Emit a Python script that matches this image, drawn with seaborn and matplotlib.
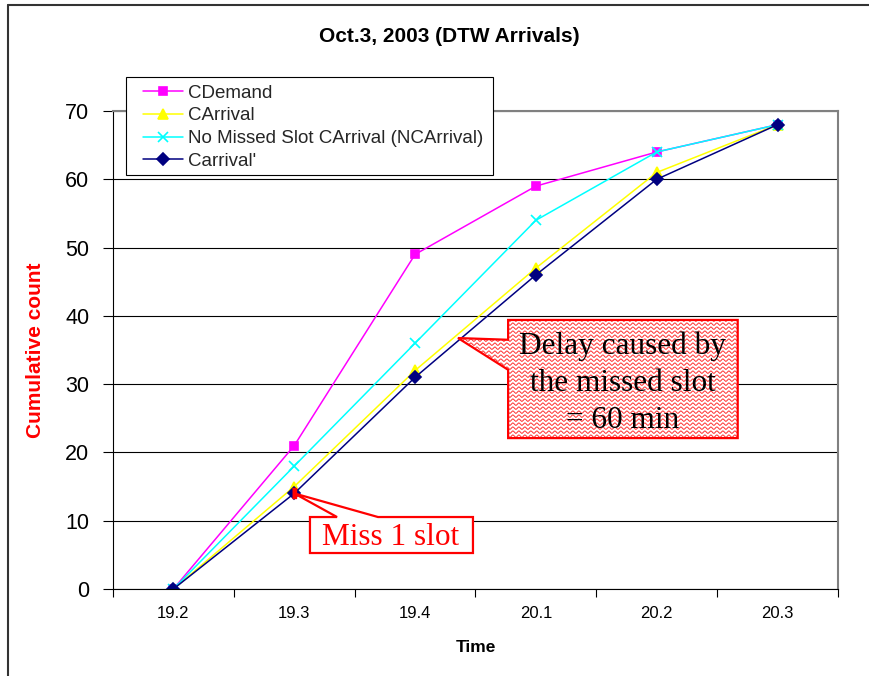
import numpy as np
import matplotlib
matplotlib.use("Agg")
import matplotlib.pyplot as plt
import seaborn as sns
from matplotlib.patches import Polygon, Rectangle
from matplotlib.lines import Line2D

# Cumulative counts per time slot
times = ["19.2", "19.3", "19.4", "20.1", "20.2", "20.3"]
cdemand = [0, 21, 49, 59, 64, 68]
carrival = [0, 15, 32, 47, 61, 68]
ncarrival = [0, 18, 36, 54, 64, 68]
carrival_prime = [0, 14, 31, 46, 60, 68]

series_names = ["CDemand", "CArrival", "No Missed Slot CArrival (NCArrival)", "Carrival'"]
series_values = [cdemand, carrival, ncarrival, carrival_prime]
colors = ["#FF00FF", "#FFFF00", "#00FFFF", "#000080"]
markers = ["s", "^", "x", "D"]
marker_sizes = [5.5, 6.5, 6.5, 6.0]

sns.set_theme(style="white")
plt.rcParams["font.family"] = ["Liberation Sans", "DejaVu Sans"]

fig = plt.figure(figsize=(8.7, 6.76), dpi=100)
fig.patch.set_facecolor("white")
ax = fig.add_axes([113 / 870, 87 / 676, 725 / 870, 478 / 676])
ax.set_facecolor("white")

for name, vals, c, m, ms in zip(series_names, series_values, colors, markers, marker_sizes):
    sns.pointplot(x=times, y=vals, color=c, marker=m, markersize=ms,
                  linewidth=1.1, markeredgewidth=1.2, errorbar=None,
                  label=name, ax=ax)

# axes, ticks and grid
ax.set_xlim(-0.5, 5.5)
ax.set_ylim(0, 70)
ax.set_yticks(range(0, 71, 10))
ax.yaxis.grid(True, color="black", lw=0.8)
ax.xaxis.grid(False)
ax.set_axisbelow(True)
ax.set_xticks(np.arange(-0.5, 6, 1), minor=True)
ax.tick_params(axis="y", which="major", left=True, direction="out", length=7,
               width=0.8, color="black", labelsize=15.5, pad=10, labelcolor="black")
ax.tick_params(axis="x", which="major", bottom=True, length=0, labelsize=12,
               pad=12, labelcolor="black")
ax.tick_params(axis="x", which="minor", bottom=True, direction="out", length=6,
               width=0.8, color="black")
for side in ["left", "bottom"]:
    ax.spines[side].set_color("black")
    ax.spines[side].set_linewidth(0.8)
for side in ["top", "right"]:
    ax.spines[side].set_color("#808080")
    ax.spines[side].set_linewidth(1.5)

ax.set_xlabel("Time", fontsize=12.5, fontweight="bold", color="black")
ax.xaxis.set_label_coords(0.5, -0.107)
ax.set_ylabel("Cumulative count", fontsize=15, fontweight="bold", color="red")
ax.yaxis.set_label_coords(-0.094, 0.5)

fig.text(449 / 870, 1 - 37 / 676, "Oct.3, 2003 (DTW Arrivals)", ha="center",
         va="center", fontsize=15, fontweight="bold", color="black")

# legend with a plain white box
legend_box = Rectangle((0.0179, 0.866), 0.506, 0.205, transform=ax.transAxes,
                       facecolor="white", edgecolor="black", lw=0.8,
                       clip_on=False, zorder=5)
ax.add_patch(legend_box)
leg = ax.legend(loc="upper left", bbox_to_anchor=(0.031, 1.071), frameon=False,
                fontsize=13.5, handlelength=2.13, handletextpad=0.27,
                labelspacing=0.3, borderpad=0.4, borderaxespad=0)
leg.set_zorder(6)

# callout: delay caused by the missed slot (wavy red fill)
delay_shape = [(2.77, 39.4), (4.67, 39.4), (4.67, 22.1), (2.77, 22.1),
               (2.77, 32.1), (2.355, 36.75), (2.77, 36.5)]
delay_patch = Polygon(delay_shape, closed=True, facecolor="white",
                      edgecolor="none", zorder=6)
ax.add_patch(delay_patch)
wave_x = np.linspace(2.3, 4.7, 1600)
period = 6 / 120.83
amp = 1.2 / 6.829
for y0 in np.arange(21.8, 39.8, 4 / 6.829):
    wave_y = y0 + amp * np.sin(2 * np.pi * (wave_x - 2.3) / period)
    (wl,) = ax.plot(wave_x, wave_y, color="#FF3030", lw=0.7, zorder=6.5)
    wl.set_clip_path(delay_patch)
ax.add_patch(Polygon(delay_shape, closed=True, facecolor="none",
                     edgecolor="red", lw=1.6, zorder=7))
ax.text(3.72, 30.1, "Delay caused by\nthe missed slot\n= 60 min", ha="center",
        va="center", fontsize=22.5, family="Liberation Serif", color="black",
        linespacing=1.36, zorder=8)

# callout: missed slot at 19.3
miss_shape = [(1.13, 10.54), (1.354, 10.54), (1, carrival_prime[1]), (1.693, 10.54),
              (2.479, 10.54), (2.479, 5.27), (1.13, 5.27)]
ax.add_patch(Polygon(miss_shape, closed=True, facecolor="white", edgecolor="red",
                     lw=1.6, zorder=7))
ax.plot([1], [carrival_prime[1]], marker=[(-1, -2), (1, -2), (1, 2), (-1, 2)],
        ms=6.5, color="red", zorder=8)
ax.text(1.80, 7.6, "Miss 1 slot", ha="center", va="center", fontsize=22.5,
        family="Liberation Serif", color="red", zorder=8)

# outer frame
fig.add_artist(Line2D([8 / 870, 1], [1 - 5 / 676, 1 - 5 / 676], color="#333333",
                      lw=1.5, transform=fig.transFigure))
fig.add_artist(Line2D([8 / 870, 8 / 870], [0, 1 - 5 / 676], color="#333333",
                      lw=1.5, transform=fig.transFigure))

fig.savefig("out.png", dpi=100, facecolor="white")
